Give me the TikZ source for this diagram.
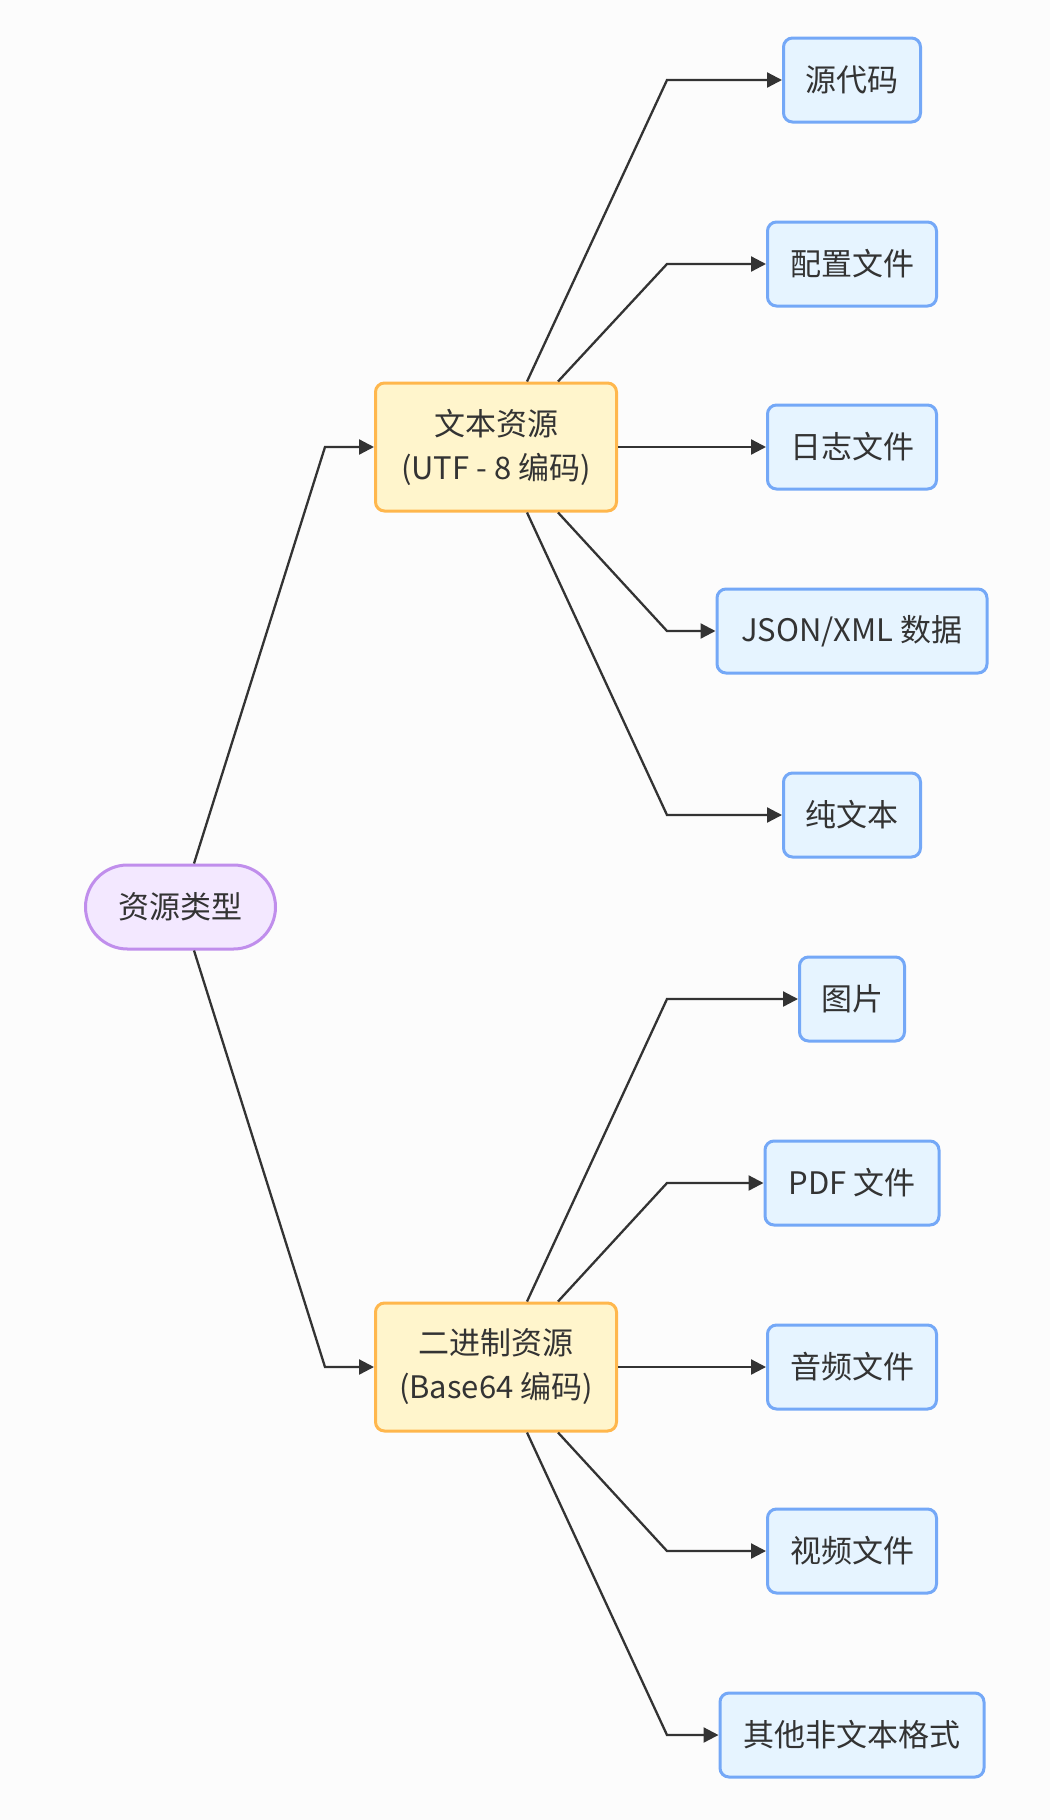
\documentclass[tikz,border=0pt]{standalone}
\usepackage{fontspec}
\setmainfont{Noto Sans CJK SC}
\usetikzlibrary{arrows.meta}
\definecolor{ink}{HTML}{333333}
\definecolor{bg}{HTML}{FCFCFC}
\definecolor{leaffill}{HTML}{E6F4FF}
\definecolor{leafdraw}{HTML}{74A8F7}
\definecolor{midfill}{HTML}{FFF5CC}
\definecolor{middraw}{HTML}{FFB74D}
\definecolor{rootfill}{HTML}{F3E8FF}
\definecolor{rootdraw}{HTML}{C08EEC}
\tikzset{
  base/.style={text=ink, font=\fontsize{31}{44}\selectfont, line width=3pt, inner sep=0pt, align=center},
  rootbox/.style={base, fill=rootfill, draw=rootdraw, rounded corners=42pt, minimum width=190pt, minimum height=84pt},
  midbox/.style={base, fill=midfill, draw=middraw, rounded corners=9pt, minimum width=241pt, minimum height=128pt},
  leafbox/.style={base, fill=leaffill, draw=leafdraw, rounded corners=9pt, minimum height=84pt},
  arr/.style={draw=ink, line width=2.3pt, -{Triangle[length=15pt,width=15pt]}},
}
\begin{document}
\begin{tikzpicture}[x=1pt,y=-1pt]
\fill[bg] (0,0) rectangle (1050,1820);
\useasboundingbox (0,0) rectangle (1050,1820);

% root and the two encodings
\node[rootbox] (root) at (180.5,907) {资源类型};
\node[midbox] (txt) at (496,447) {文本资源\\(UTF - 8 编码)};
\node[midbox] (bin) at (496,1367) {二进制资源\\(Base64 编码)};

% leaves of the text branch
\node[leafbox, minimum width=137pt] (src) at (852,80) {源代码};
\node[leafbox, minimum width=169pt] (cfg) at (852,264) {配置文件};
\node[leafbox, minimum width=169pt] (log) at (852,447) {日志文件};
\node[leafbox, minimum width=270pt] (json) at (852,631) {JSON/XML 数据};
\node[leafbox, minimum width=137pt] (plain) at (852,815) {纯文本};

% leaves of the binary branch
\node[leafbox, minimum width=105pt] (img) at (852,999) {图片};
\node[leafbox, minimum width=174pt] (pdf) at (852,1183) {PDF 文件};
\node[leafbox, minimum width=169pt] (aud) at (852,1367) {音频文件};
\node[leafbox, minimum width=169pt] (vid) at (852,1551) {视频文件};
\node[leafbox, minimum width=264pt] (other) at (852,1735) {其他非文本格式};

% bend columns
\coordinate (rb) at (325,0);
\coordinate (lb) at (667,0);

% root to encodings
\draw[arr] ([xshift=13.5pt]root.north) -- (rb |- txt.west) -- (txt.west);
\draw[arr] ([xshift=13.5pt]root.south) -- (rb |- bin.west) -- (bin.west);

% text branch
\draw[arr] ([xshift=31pt]txt.north) -- (lb |- src.west) -- (src.west);
\draw[arr] ([xshift=62pt]txt.north) -- (lb |- cfg.west) -- (cfg.west);
\draw[arr] (txt.east) -- (log.west);
\draw[arr] ([xshift=62pt]txt.south) -- (lb |- json.west) -- (json.west);
\draw[arr] ([xshift=31pt]txt.south) -- (lb |- plain.west) -- (plain.west);

% binary branch
\draw[arr] ([xshift=31pt]bin.north) -- (lb |- img.west) -- (img.west);
\draw[arr] ([xshift=62pt]bin.north) -- (lb |- pdf.west) -- (pdf.west);
\draw[arr] (bin.east) -- (aud.west);
\draw[arr] ([xshift=62pt]bin.south) -- (lb |- vid.west) -- (vid.west);
\draw[arr] ([xshift=31pt]bin.south) -- (lb |- other.west) -- (other.west);
\end{tikzpicture}
\end{document}
